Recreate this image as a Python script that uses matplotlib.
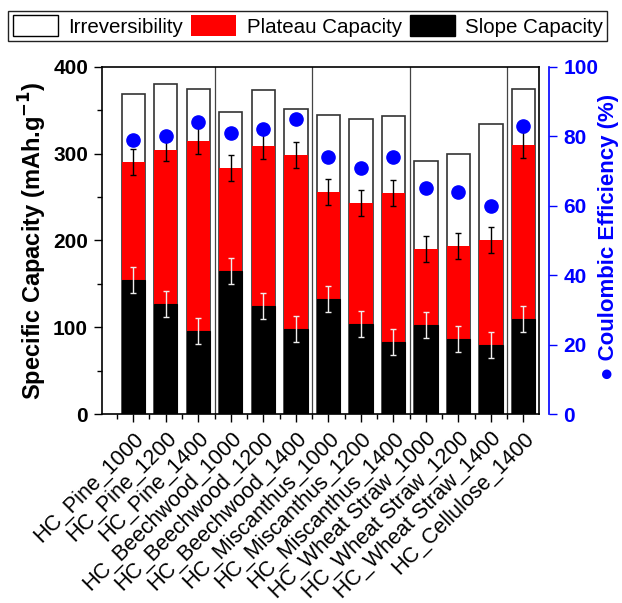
import matplotlib
matplotlib.use("Agg")
import matplotlib.pyplot as plt
import numpy as np
from matplotlib.patches import Patch
from matplotlib.ticker import MultipleLocator
from matplotlib.transforms import ScaledTranslation

plt.rcParams['font.family'] = ['Liberation Sans', 'DejaVu Sans']

labels = ["HC_Pine_1000", "HC_Pine_1200", "HC_Pine_1400",
          "HC_Beechwood_1000", "HC_Beechwood_1200", "HC_Beechwood_1400",
          "HC_Miscanthus_1000", "HC_Miscanthus_1200", "HC_Miscanthus_1400",
          "HC_Wheat Straw_1000", "HC_Wheat Straw_1200", "HC_Wheat Straw_1400",
          "HC_Cellulose_1400"]
total_capacity = [369, 380, 375, 348, 373, 352, 345, 340, 343, 292, 300, 334, 375]
plateau_top = [290, 304, 315, 283, 309, 299, 256, 243, 255, 190, 194, 201, 310]
slope_capacity = [155, 127, 96, 165, 125, 98, 132, 104, 83, 103, 86, 80, 110]
plateau_err = [15, 12, 15, 15, 15, 15, 15, 15, 15, 15, 15, 15, 15]
slope_err = [15, 15, 15, 15, 15, 15, 15, 15, 15, 15, 15, 15, 15]
coulombic_eff = [79, 80, 84, 81, 82, 85, 74, 71, 74, 65, 64, 60, 83]
group_separators = [3.5, 6.5, 9.5, 12.5]

x = np.arange(1, len(labels) + 1)
w = 0.72

fig = plt.figure(figsize=(6.22, 6.03), dpi=100)
ax = fig.add_axes([0.164, 0.3134, 0.7026, 0.5756])

plateau_h = np.array(plateau_top) - np.array(slope_capacity)
ax.bar(x, total_capacity, w, color='white', edgecolor='#333333', linewidth=1.2, zorder=2)
ax.bar(x, plateau_h, w, bottom=slope_capacity, color='#ff0000', edgecolor='none', zorder=3)
ax.bar(x, slope_capacity, w, color='black', edgecolor='black', linewidth=0.8, zorder=3)
ax.errorbar(x, plateau_top, yerr=plateau_err, fmt='none', ecolor='black',
            elinewidth=1.0, capsize=2.5, capthick=1.0, zorder=4)
ax.errorbar(x, slope_capacity, yerr=slope_err, fmt='none', ecolor='#eeeeee',
            elinewidth=1.0, capsize=2.5, capthick=1.0, zorder=4)
for s in group_separators:
    ax.axvline(s, color='#444444', linewidth=0.9, zorder=1)

ax.set_xlim(0.04, 13.48)
ax.set_ylim(0, 400)
ax.set_xticks(x)
ax.set_xticklabels(labels, rotation=45, ha='right', va='top',
                   rotation_mode='anchor', fontsize=15.5)
offset = ScaledTranslation(0.12, -0.08, fig.dpi_scale_trans)
for t in ax.get_xticklabels():
    t.set_transform(t.get_transform() + offset)
ax.xaxis.set_minor_locator(MultipleLocator(0.5))
ax.yaxis.set_major_locator(MultipleLocator(100))
ax.yaxis.set_minor_locator(MultipleLocator(50))
ax.tick_params(axis='both', which='major', direction='out', length=6, width=1)
ax.tick_params(axis='both', which='minor', direction='out', length=3.5, width=1)
ax.tick_params(axis='x', pad=4)
ax.tick_params(axis='y', labelsize=15, pad=4)
for t in ax.get_yticklabels():
    t.set_fontweight('bold')
ax.set_ylabel("Specific Capacity (mAh.g$^{\\mathbf{-1}}$)", fontsize=17, fontweight='bold')
ax.yaxis.set_label_coords(-0.121, 0.5)
for sp in ax.spines.values():
    sp.set_linewidth(1.2)

ax2 = ax.twinx()
ax2.plot(x, coulombic_eff, 'o', color='#0000ff', markersize=9.5, zorder=5)
ax2.set_ylim(0, 100)
ax2.yaxis.set_major_locator(MultipleLocator(20))
ax2.spines['right'].set_position(('outward', 7.5))
ax2.spines['right'].set_color('#0000ff')
ax2.spines['right'].set_linewidth(1.2)
for k in ['left', 'top', 'bottom']:
    ax2.spines[k].set_visible(False)
ax2.tick_params(axis='y', colors='#0000ff', direction='out', length=6, width=1,
                labelsize=15, pad=4)
for t in ax2.get_yticklabels():
    t.set_fontweight('bold')
ax2.set_ylabel("\u25cf Coulombic Efficiency (%)", fontsize=16, fontweight='bold',
               color='#0000ff')
ax2.yaxis.set_label_coords(1.136, 0.51)

handles = [Patch(facecolor='white', edgecolor='black', linewidth=1.0),
           Patch(facecolor='#ff0000', edgecolor='none'),
           Patch(facecolor='black', edgecolor='black')]
fig.legend(handles, ["Irreversibility", "Plateau Capacity", "Slope Capacity"],
           loc='center', bbox_to_anchor=(0.495, 0.957), ncol=3, fontsize=14.8,
           frameon=True, fancybox=False, edgecolor='#222222', framealpha=1,
           handlelength=2.2, handleheight=1.17, columnspacing=0.4, handletextpad=0.5,
           borderpad=0.2, borderaxespad=0)

fig.savefig("out.png", dpi=100)
